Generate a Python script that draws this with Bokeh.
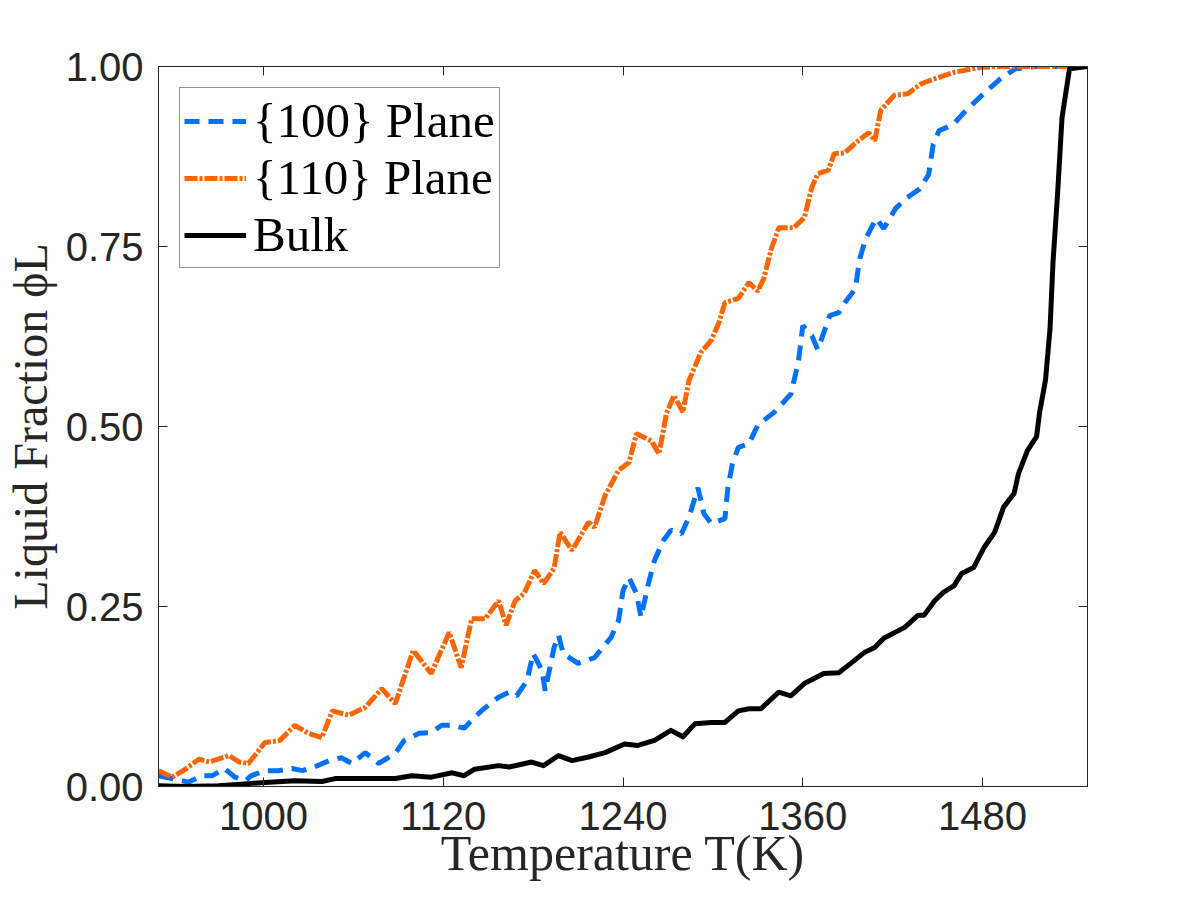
from bokeh.plotting import figure
from bokeh.models import (LinearAxis, FixedTicker, PrintfTickFormatter, Range1d,
                          Legend, LegendItem)
from bokeh.embed import file_html
from bokeh.resources import INLINE

# ---------------- data ----------------
t_100 = [930, 939, 950, 959, 966, 974, 981, 988, 992, 1001, 1010, 1019, 1026, 1034,
         1044, 1052, 1059, 1068, 1077, 1088, 1094, 1104, 1112, 1119, 1126, 1134,
         1141, 1146, 1157, 1164, 1169, 1176, 1180, 1186, 1188, 1194, 1197, 1200,
         1210, 1221, 1232, 1237, 1240, 1244, 1249, 1252, 1257, 1261, 1267, 1272,
         1279, 1284, 1288, 1290, 1294, 1299, 1308, 1310, 1313, 1317, 1324, 1330,
         1341, 1352, 1357, 1360, 1366, 1370, 1378, 1384, 1388, 1395, 1398, 1402,
         1409, 1414, 1422, 1429, 1438, 1444, 1447, 1451, 1460, 1469, 1480, 1492,
         1502, 1516, 1550]
phi_100 = [0.015, 0.011, 0.006, 0.015, 0.015, 0.025, 0.013, 0.008, 0.015, 0.022,
           0.022, 0.025, 0.022, 0.027, 0.036, 0.040, 0.032, 0.047, 0.032, 0.046,
           0.064, 0.074, 0.075, 0.085, 0.085, 0.081, 0.096, 0.106, 0.124, 0.131,
           0.126, 0.147, 0.185, 0.161, 0.133, 0.193, 0.210, 0.185, 0.171, 0.179,
           0.207, 0.230, 0.272, 0.290, 0.268, 0.235, 0.282, 0.314, 0.342, 0.356,
           0.351, 0.374, 0.401, 0.415, 0.379, 0.365, 0.372, 0.415, 0.448, 0.471,
           0.476, 0.502, 0.520, 0.545, 0.589, 0.640, 0.626, 0.607, 0.654, 0.658,
           0.672, 0.691, 0.733, 0.761, 0.789, 0.775, 0.803, 0.817, 0.830, 0.850,
           0.892, 0.911, 0.919, 0.939, 0.961, 0.983, 0.997, 1.000, 1.000]

t_110 = [930, 939, 948, 957, 964, 977, 984, 990, 1001, 1011, 1021, 1030, 1039, 1046,
         1057, 1068, 1079, 1088, 1100, 1112, 1124, 1132, 1139, 1148, 1157, 1162,
         1168, 1174, 1181, 1187, 1194, 1198, 1206, 1217, 1221, 1228, 1237, 1244,
         1249, 1259, 1264, 1269, 1274, 1280, 1284, 1292, 1299, 1304, 1308, 1317,
         1324, 1330, 1334, 1339, 1344, 1354, 1361, 1366, 1370, 1377, 1381, 1388,
         1397, 1404, 1408, 1412, 1421, 1430, 1439, 1448, 1461, 1479, 1492, 1550]
phi_110 = [0.022, 0.013, 0.024, 0.038, 0.034, 0.043, 0.034, 0.032, 0.061, 0.064,
           0.085, 0.074, 0.068, 0.105, 0.099, 0.110, 0.136, 0.115, 0.189, 0.157,
           0.214, 0.165, 0.233, 0.233, 0.258, 0.224, 0.258, 0.268, 0.300, 0.282,
           0.303, 0.353, 0.328, 0.367, 0.360, 0.404, 0.439, 0.450, 0.490, 0.480,
           0.462, 0.518, 0.543, 0.520, 0.564, 0.603, 0.620, 0.644, 0.672, 0.678,
           0.700, 0.688, 0.706, 0.747, 0.776, 0.776, 0.790, 0.832, 0.851, 0.856,
           0.879, 0.880, 0.897, 0.908, 0.897, 0.939, 0.960, 0.962, 0.976, 0.983,
           0.992, 0.999, 1.000, 1.000]

t_bulk = [930, 948, 970, 990, 1004, 1021, 1039, 1048, 1068, 1088, 1099, 1112, 1126,
          1134, 1141, 1157, 1164, 1179, 1187, 1197, 1206, 1217, 1228, 1241, 1250,
          1261, 1272, 1280, 1288, 1299, 1308, 1317, 1324, 1332, 1344, 1352, 1361,
          1374, 1384, 1392, 1401, 1408, 1414, 1428, 1437, 1441, 1448, 1454, 1461,
          1466, 1474, 1481, 1488, 1494, 1501, 1504, 1510, 1516, 1518, 1522, 1525,
          1527, 1530, 1533, 1538, 1550]
phi_bulk = [0.001, 0.000, 0.001, 0.004, 0.006, 0.008, 0.007, 0.011, 0.011, 0.011,
            0.015, 0.013, 0.019, 0.015, 0.024, 0.029, 0.027, 0.034, 0.029, 0.043,
            0.036, 0.041, 0.047, 0.059, 0.057, 0.064, 0.078, 0.069, 0.087, 0.089,
            0.089, 0.105, 0.108, 0.108, 0.131, 0.126, 0.143, 0.157, 0.158, 0.171,
            0.186, 0.193, 0.206, 0.221, 0.238, 0.238, 0.258, 0.270, 0.279, 0.296,
            0.304, 0.332, 0.353, 0.388, 0.407, 0.435, 0.467, 0.486, 0.519, 0.565,
            0.636, 0.729, 0.822, 0.929, 0.997, 1.000]

x_ticks = [1000, 1120, 1240, 1360, 1480]
y_ticks = [0.0, 0.25, 0.5, 0.75, 1.0]
series_labels = ["{100} Plane", "{110} Plane", "Bulk"]
x_title = "Temperature T(K)"
y_title = "Liquid Fraction \u03d5L"

# ---------------- styling ----------------
AX = "#262626"
SERIF = "Liberation Serif"
SANS = "Liberation Sans"

p = figure(width=1184, height=884, x_range=Range1d(930, 1550), y_range=Range1d(0, 1),
           output_backend="svg", toolbar_location=None,
           min_border_left=156, min_border_right=97, min_border_top=66,
           min_border_bottom=98)
p.xgrid.visible = False
p.ygrid.visible = False
p.outline_line_color = AX
p.background_fill_color = "white"
p.border_fill_color = "white"


def style_axis(ax, show_labels, standoff=15):
    ax.axis_line_color = AX
    ax.axis_line_width = 1
    ax.major_tick_line_color = AX
    ax.major_tick_line_width = 1
    ax.major_tick_in = 9
    ax.major_tick_out = 0
    ax.minor_tick_in = 0
    ax.minor_tick_out = 0
    ax.minor_tick_line_color = None
    if show_labels:
        ax.major_label_text_font = SANS
        ax.major_label_text_font_size = "40px"
        ax.major_label_text_color = AX
        ax.major_label_standoff = standoff
    else:
        ax.major_label_text_color = None
        ax.major_label_text_font_size = "1px"
        ax.major_label_standoff = 0


p.xaxis.ticker = FixedTicker(ticks=x_ticks)
p.xaxis.formatter = PrintfTickFormatter(format="%d")
p.yaxis.ticker = FixedTicker(ticks=y_ticks)
p.yaxis.formatter = PrintfTickFormatter(format="%.2f")
for ax in p.xaxis:
    style_axis(ax, True, 15)
    ax.axis_label = x_title
    ax.axis_label_text_font = SERIF
    ax.axis_label_text_font_size = "50px"
    ax.axis_label_text_font_style = "normal"
    ax.axis_label_text_color = AX
    ax.axis_label_standoff = -8
for ax in p.yaxis:
    style_axis(ax, True, 15)
    ax.axis_label = y_title
    ax.axis_label_text_font = SERIF
    ax.axis_label_text_font_size = "48px"
    ax.axis_label_text_font_style = "normal"
    ax.axis_label_text_color = AX
    ax.axis_label_standoff = 6

top = LinearAxis(ticker=FixedTicker(ticks=x_ticks))
right = LinearAxis(ticker=FixedTicker(ticks=y_ticks))
style_axis(top, False)
style_axis(right, False)
p.add_layout(top, "above")
p.add_layout(right, "right")

r100 = p.line(t_100, phi_100, line_color="#0070FF", line_width=5, line_dash="15 9")
r110 = p.line(t_110, phi_110, line_color="#FF6600", line_width=5, line_dash="13 2 3 2")
rbulk = p.line(t_bulk, phi_bulk, line_color="black", line_width=5, line_join="round")

legend = Legend(items=[LegendItem(label=series_labels[0], renderers=[r100]),
                       LegendItem(label=series_labels[1], renderers=[r110]),
                       LegendItem(label=series_labels[2], renderers=[rbulk])],
                location="top_left")
legend.margin = 21
legend.padding = 4
legend.spacing = 0
legend.glyph_width = 62
legend.glyph_height = 40
legend.label_height = 40
legend.label_standoff = 7
legend.label_text_font = SERIF
legend.label_text_font_size = "49px"
legend.label_text_color = "black"
legend.border_line_color = AX
legend.border_line_width = 1
legend.background_fill_color = "white"
legend.background_fill_alpha = 1.0
p.add_layout(legend)

open("out.html", "w").write(file_html(p, INLINE))
